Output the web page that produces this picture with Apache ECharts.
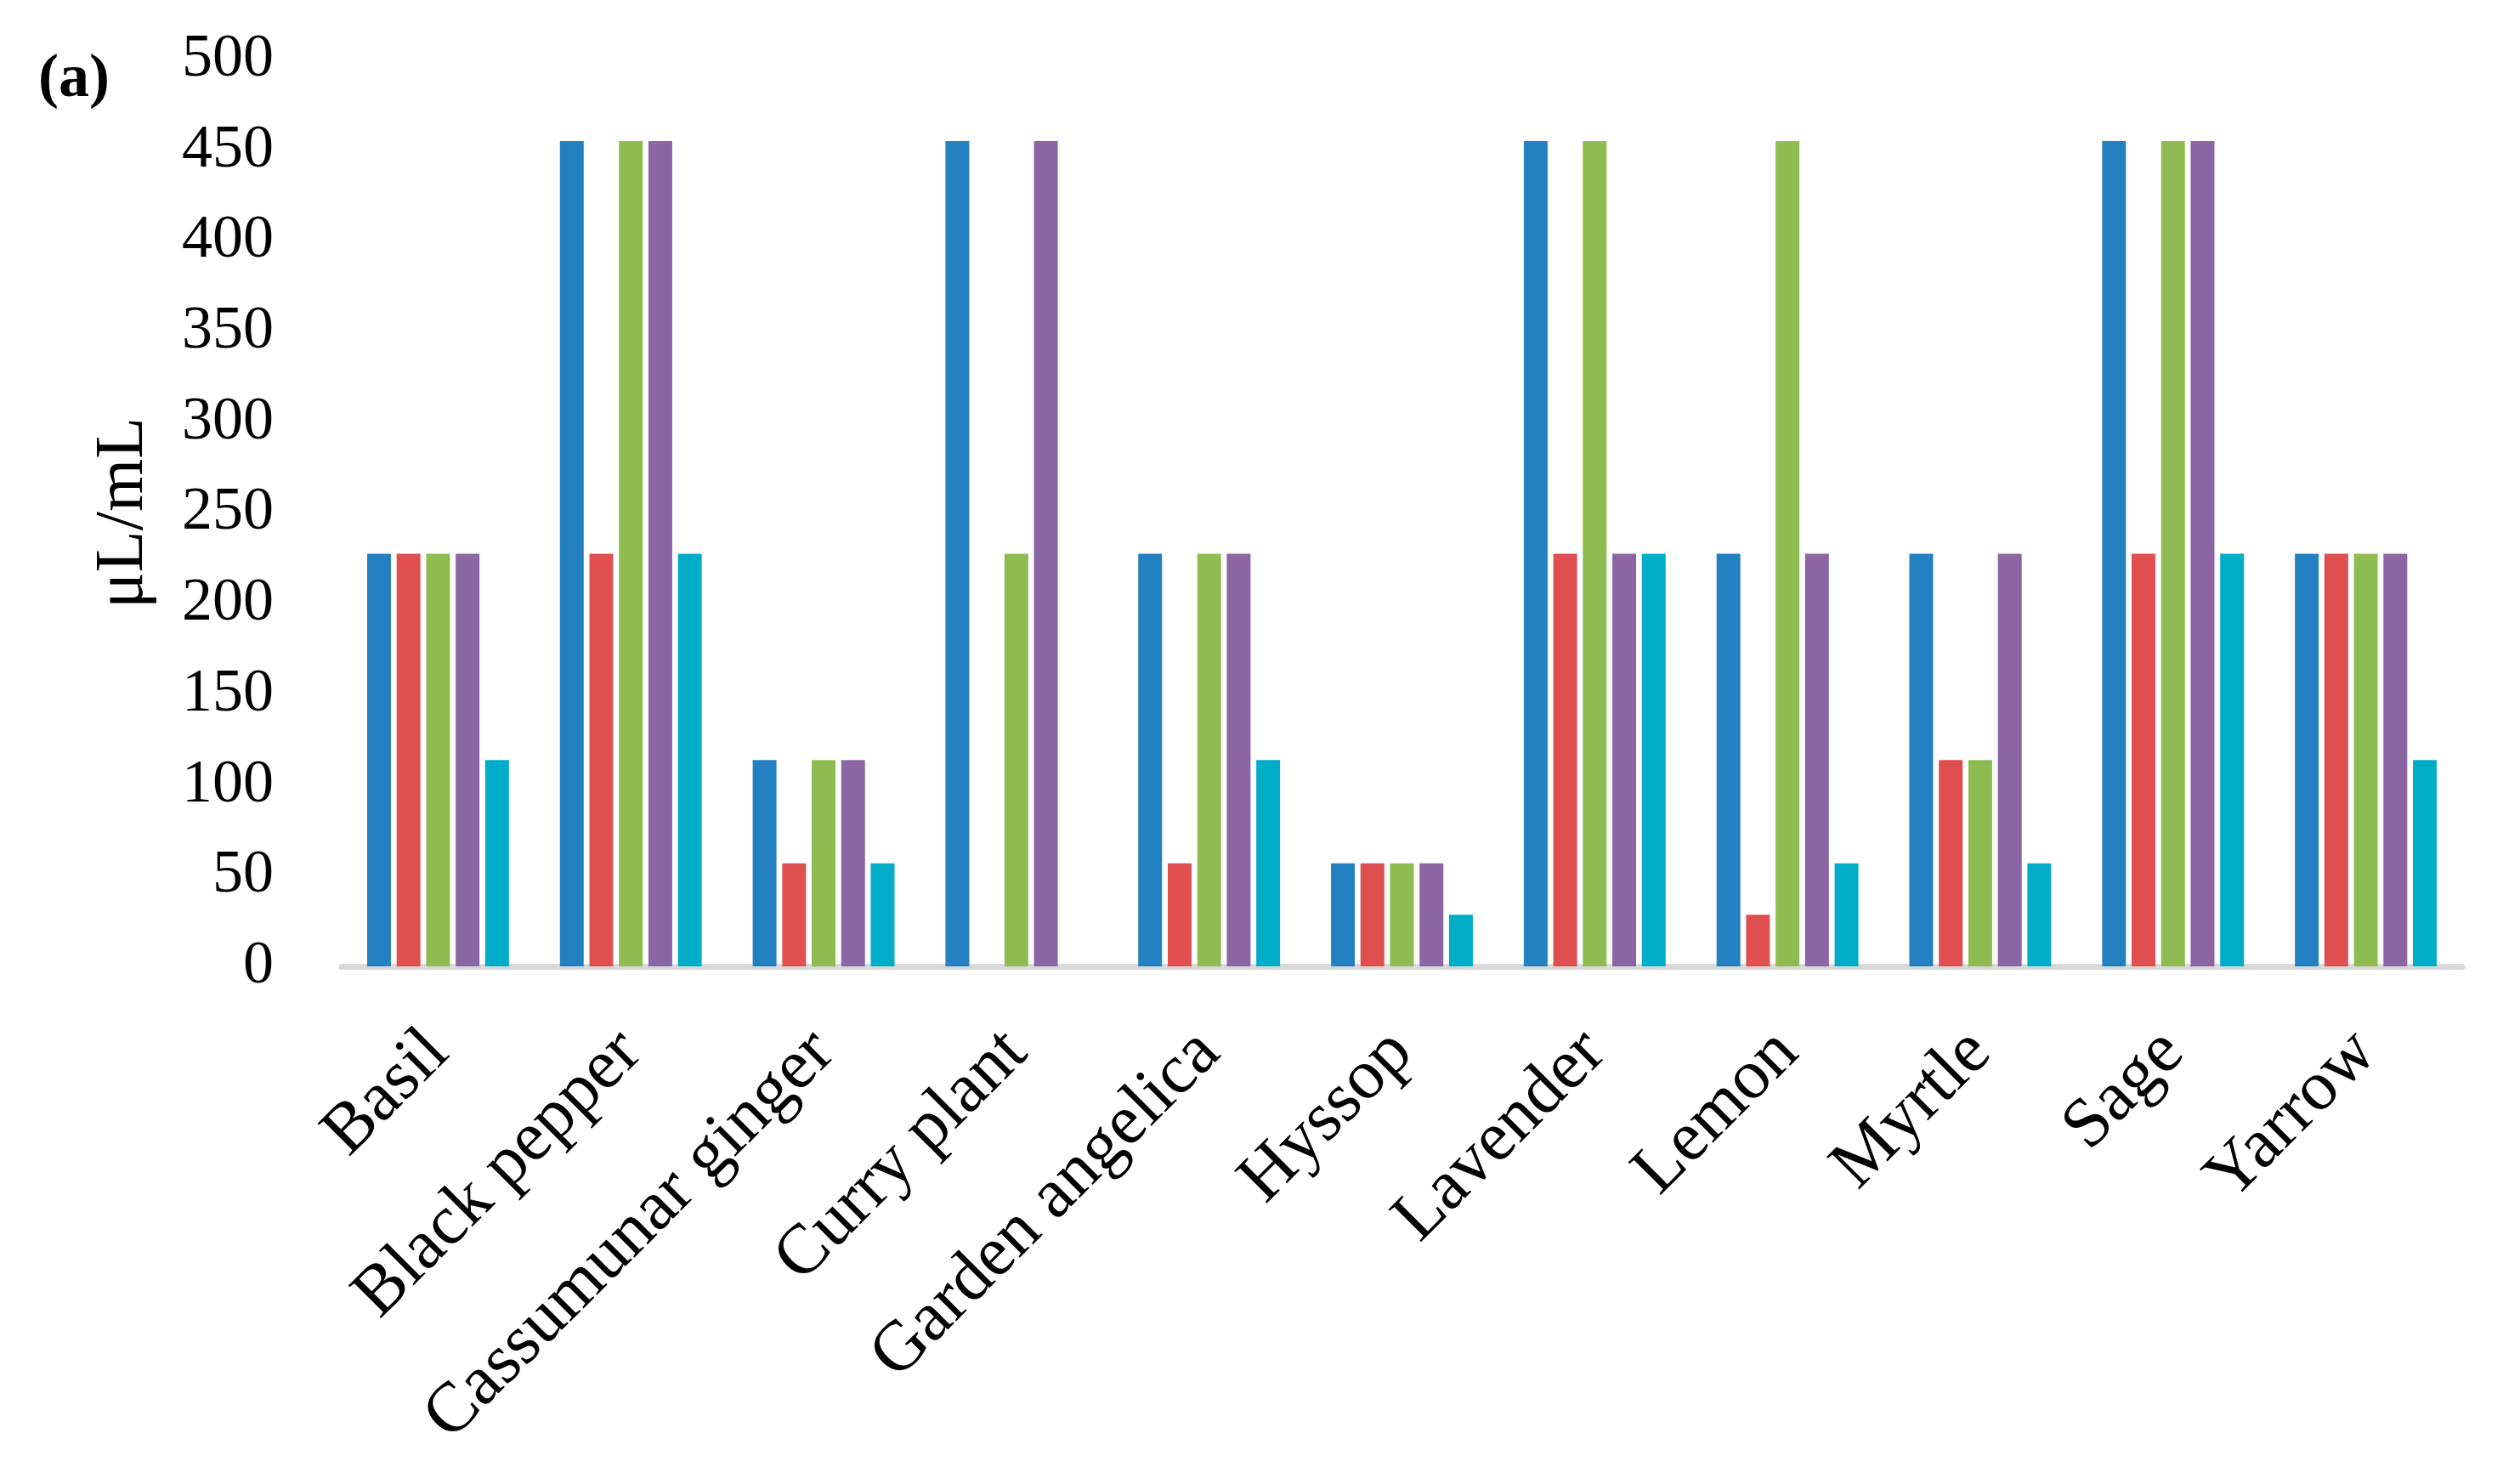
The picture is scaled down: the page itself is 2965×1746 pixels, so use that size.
<!DOCTYPE html>
<html>
<head>
<meta charset="utf-8">
<script src="https://cdn.jsdelivr.net/npm/echarts@6/dist/echarts.min.js"></script>
<style>
html,body{margin:0;padding:0;background:#fff;}
#chart{width:2965px;height:1746px;}
</style>
</head>
<body>
<div id="chart"></div>
<script>
const categories = ['Basil','Black pepper','Cassumunar ginger','Curry plant','Garden angelica','Hyssop','Lavender','Lemon','Myrtle','Sage','Yarrow'];
const seriesBlue   = [227.5, 455, 113.75, 455, 227.5, 56.875, 455, 227.5, 227.5, 455, 227.5];
const seriesRed    = [227.5, 227.5, 56.875, null, 56.875, 56.875, 227.5, 28.4375, 113.75, 227.5, 227.5];
const seriesGreen  = [227.5, 455, 113.75, 227.5, 227.5, 56.875, 455, 455, 113.75, 455, 227.5];
const seriesPurple = [227.5, 455, 113.75, 455, 227.5, 56.875, 227.5, 227.5, 227.5, 455, 227.5];
const seriesCyan   = [113.75, 227.5, 56.875, null, 113.75, 28.4375, 227.5, 56.875, 56.875, 227.5, 113.75];
const yTicks = [0,50,100,150,200,250,300,350,400,450,500];
const yName = 'μL/mL';
const panelLabel = '(a)';

const colors = ['#2481C1','#DF4F4F','#8EBC51','#8C65A5','#00ADC8'];
const FONT = '"Liberation Serif", "Times New Roman", serif';
const chart = echarts.init(document.getElementById('chart'));
const allSeries = [seriesBlue, seriesRed, seriesGreen, seriesPurple, seriesCyan];
chart.setOption({
  animation: false,
  backgroundColor: '#fff',
  grid: {left: 402, right: 68, top: 70, bottom: 609, containLabel: false},
  graphic: [{
    type: 'text', left: 45, top: 58,
    style: {text: panelLabel, font: 'bold 72px ' + FONT, fill: '#000'}
  }],
  xAxis: {
    type: 'category', data: categories, offset: 3,
    axisLine: {show: true, lineStyle: {color: '#D9D9D9', width: 7}},
    axisTick: {show: false},
    axisLabel: {rotate: 45, margin: 86, interval: 0, color: '#000', fontFamily: FONT, fontSize: 83}
  },
  yAxis: {
    type: 'value', min: 0, max: 500, interval: 50,
    name: yName, nameLocation: 'middle', nameGap: 216,
    nameTextStyle: {color: '#000', fontFamily: FONT, fontSize: 80, fontWeight: 'normal'},
    axisLine: {show: false}, axisTick: {show: false}, splitLine: {show: false},
    axisLabel: {margin: 80, color: '#000', fontFamily: FONT, fontSize: 72,
      formatter: v => yTicks.includes(v) ? String(v) : ''}
  },
  series: allSeries.map((d, i) => ({
    type: 'bar', data: d, barWidth: 28, barGap: '24%',
    itemStyle: {color: colors[i]}
  }))
});
</script>
</body>
</html>
